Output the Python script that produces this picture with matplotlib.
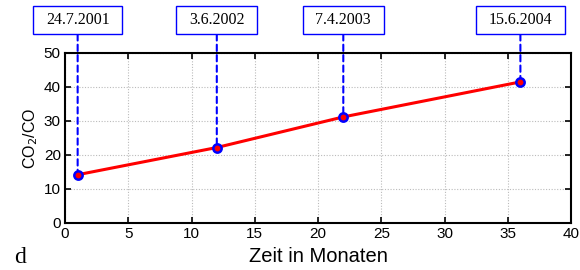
import matplotlib
matplotlib.use("Agg")
import matplotlib.pyplot as plt
from matplotlib.path import Path

months = [1, 12, 22, 36]
ratio = [14.2, 22.2, 31.2, 41.5]
dates = ["24.7.2001", "3.6.2002", "7.4.2003", "15.6.2004"]
xticks = [0, 5, 10, 15, 20, 25, 30, 35, 40]
yticks = [0, 10, 20, 30, 40, 50]

plt.rcParams['font.family'] = ['Liberation Sans', 'DejaVu Sans']

fig = plt.figure(figsize=(5.8, 2.7), dpi=100)
ax = fig.add_axes([65/580, 47/270, 506/580, 170/270])

ax.plot(months, ratio, color='red', lw=2.2, zorder=3)
ax.plot(months, ratio, ls='none', marker='o', ms=6, mec='blue', mfc='red',
        mew=1.8, zorder=4)


def wide_box(x0, y0, width, height, mutation_size):
    padx = 0.8 * mutation_size
    pady = 0.36 * mutation_size
    x0 -= padx
    y0 -= pady
    x1 = x0 + width + 2 * padx
    y1 = y0 + height + 2 * pady
    return Path([(x0, y0), (x1, y0), (x1, y1), (x0, y1), (x0, y0)],
                closed=True)


for mx, my, d in zip(months, ratio, dates):
    ax.annotate(d, xy=(mx, my), xytext=(mx, 59.7), textcoords='data',
                ha='center', va='center', fontsize=11.5,
                family='Liberation Serif', annotation_clip=False,
                bbox=dict(boxstyle=wide_box, fc='white', ec='blue', lw=1.0),
                arrowprops=dict(arrowstyle='-', color='blue', lw=1.5,
                                ls=(0, (3, 2)), shrinkA=0, shrinkB=3))

ax.set_xlim(0, 40)
ax.set_ylim(0, 50)
ax.set_xticks(xticks)
ax.set_yticks(yticks)
ax.grid(True, color='#bbbbbb', ls=(0, (1, 1.5)), lw=0.8)
ax.tick_params(direction='in', top=True, right=True, length=4, width=1.2,
               labelsize=11, pad=3)
for s in ax.spines.values():
    s.set_linewidth(1.5)
ax.set_xlabel("Zeit in Monaten", fontsize=14.5, labelpad=4)
ax.set_ylabel("CO$_2$/CO", fontsize=11.5, labelpad=3)

fig.text(14/580, 0.006, "d", family='Liberation Serif', fontsize=17,
         ha='left', va='bottom')

fig.savefig("out.png", dpi=100)
